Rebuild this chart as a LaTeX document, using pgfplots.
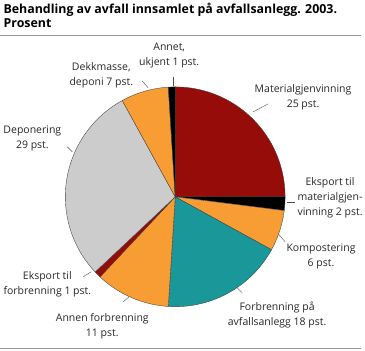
\documentclass[border=0pt]{standalone}
\usepackage{fontspec}
\setmainfont{Open Sans}
\usepackage{pgfplots}
\pgfplotsset{compat=1.18}
\definecolor{ssbred}{RGB}{150,12,8}
\definecolor{ssborange}{RGB}{248,156,52}
\definecolor{ssbteal}{RGB}{26,152,153}
\definecolor{ssbgray}{RGB}{204,204,204}
% slice: start (cumulative percent), value (percent), colour
\newcommand{\slice}[3]{%
  \addplot[fill=#3, draw=black!75, line width=0.35pt, domain={90-3.6*(#1+#2)}:{90-3.6*(#1)}, samples=60, variable=\t]
    ({175+110*cos(\t)},{197-110*sin(\t)}) -- (axis cs:175,197) -- cycle;
}
\begin{document}
\begin{tikzpicture}
\begin{axis}[
  scale only axis, width=365pt, height=351pt,
  xmin=0, xmax=365, ymin=0, ymax=351, y dir=reverse,
  hide axis, clip=false,
]
\path (axis cs:0,0) rectangle (axis cs:365,351);
% values (percent): 25, 2, 6, 18, 11, 1, 29, 7, 1
\slice{0}{25}{ssbred}
\slice{25}{2}{black}
\slice{27}{6}{ssborange}
\slice{33}{18}{ssbteal}
\slice{51}{11}{ssborange}
\slice{62}{1}{ssbred}
\slice{63}{29}{ssbgray}
\slice{92}{7}{ssborange}
\slice{99}{1}{black}
% rules
\draw[gray!80, line width=0.8pt] (axis cs:0,35) -- (axis cs:361,35);
\draw[gray!80, line width=0.8pt] (axis cs:0,349) -- (axis cs:361,349);
% title
\node[anchor=base west, font=\fontsize{12.4}{14}\selectfont\bfseries, inner sep=0pt] at (axis cs:3,14) {Behandling av avfall innsamlet på avfallsanlegg. 2003.};
\node[anchor=base west, font=\fontsize{12.4}{14}\selectfont\bfseries, inner sep=0pt] at (axis cs:3,28) {Prosent};
% leaders
\begin{scope}[black!70, line width=0.4pt]
\draw (axis cs:173,77) -- (axis cs:173,86);
\draw (axis cs:142,81) -- (axis cs:148,88);
\draw (axis cs:253,112) -- (axis cs:268,104);
\draw (axis cs:287,202) -- (axis cs:295,202);
\draw (axis cs:279,235) -- (axis cs:285,242);
\draw (axis cs:237,288) -- (axis cs:242,293);
\draw (axis cs:123,302) -- (axis cs:129,297);
\draw (axis cs:83,277) -- (axis cs:91,272);
\draw (axis cs:67,147) -- (axis cs:72,152);
\end{scope}
% labels
\begin{scope}[every node/.style={align=center, inner sep=0pt, font=\fontsize{10.5}{15}\selectfont, text=black!85}]
\node at (axis cs:169,56) {Annet,\\ukjent 1 pst.};
\node at (axis cs:101,75) {Dekkmasse,\\deponi 7 pst.};
\node at (axis cs:303,97) {Materialgjenvinning\\25 pst.};
\node at (axis cs:330,198) {Eksport til\\materialgjen-\\vinning 2 pst.};
\node at (axis cs:321,257) {Kompostering\\6 pst.};
\node at (axis cs:277,315) {Forbrenning på\\avfallsanlegg 18 pst.};
\node at (axis cs:102,327) {Annen forbrenning\\11 pst.};
\node at (axis cs:47,285) {Eksport til\\forbrenning 1 pst.};
\node at (axis cs:32,139) {Deponering\\29 pst.};
\end{scope}
\end{axis}
\end{tikzpicture}
\end{document}
